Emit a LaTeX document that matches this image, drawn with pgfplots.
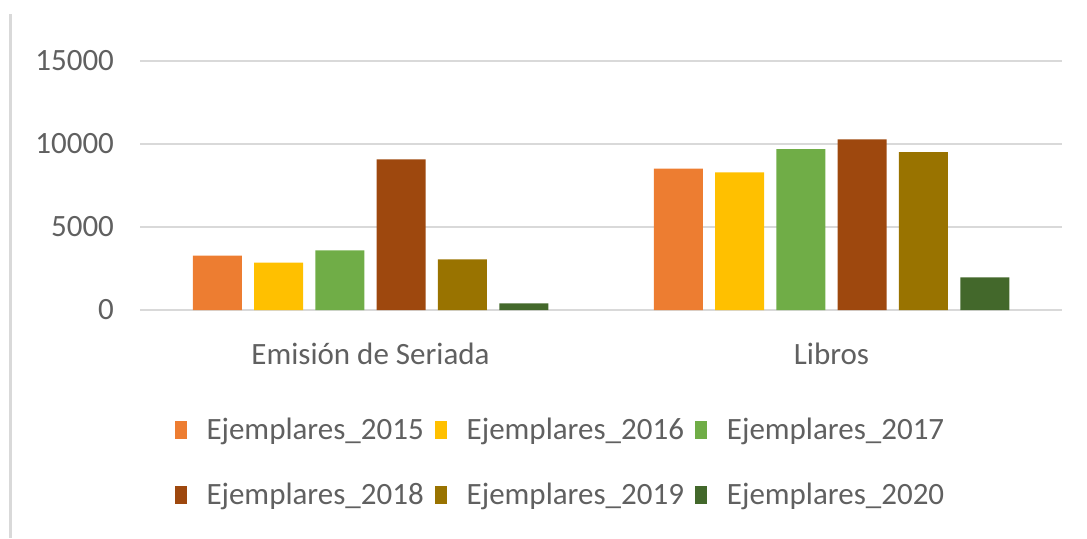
\documentclass[border=0pt]{standalone}
\usepackage{pgfplots}
\pgfplotsset{compat=1.18}
\usepackage{fontspec}
\setmainfont{Carlito}
\definecolor{c15}{HTML}{ED7D31}
\definecolor{c16}{HTML}{FFC000}
\definecolor{c17}{HTML}{70AD47}
\definecolor{c18}{HTML}{9E480E}
\definecolor{c19}{HTML}{997300}
\definecolor{c20}{HTML}{43682B}
\definecolor{txt}{HTML}{606060}
\definecolor{grd}{HTML}{D9D9D9}
\begin{document}
\begin{tikzpicture}
\useasboundingbox (0,0) rectangle (543.5pt,269pt);
\draw[color=grd, line width=1.5pt] (5pt,262pt) -- (5pt,0pt);
\begin{axis}[
  at={(70pt,114pt)}, anchor=south west,
  scale only axis, width=461pt, height=124.5pt,
  ybar=6.15pt, bar width=24.5pt,
  xmin=-0.5, xmax=1.5, ymin=0, ymax=15000,
  xtick={0,1}, xticklabels={Emisión de Seriada, Libros},
  ytick={0,5000,10000,15000},
  ymajorgrids, grid style={grd, line width=1pt},
  axis line style={draw=none},
  major tick length=0pt,
  /pgf/number format/assume math mode=true,
  scaled y ticks=false,
  yticklabel={\pgfmathprintnumber[fixed,1000 sep={}]{\tick}},
  tick label style={font=\fontsize{15.5}{18}\selectfont, text=txt},
  xticklabel style={yshift=-13pt},
  yticklabel style={xshift=-9.5pt},
  legend columns=3,
  legend style={draw=none, fill=none, at={(axis description cs:0.457,-0.40)}, anchor=north,
    font=\fontsize{15.5}{18}\selectfont, text=txt,
    /tikz/every even column/.append style={column sep=3.5pt},
    /tikz/every odd column/.append style={column sep=8pt},
    row sep=16pt},
  legend image code/.code={\fill[#1] (0pt,-4.5pt) rectangle (6pt,4.5pt);},
]
\addplot[fill=c15, draw=none] coordinates {(0,3271) (1,8512)};
\addplot[fill=c16, draw=none] coordinates {(0,2850) (1,8295)};
\addplot[fill=c17, draw=none] coordinates {(0,3596) (1,9699)};
\addplot[fill=c18, draw=none] coordinates {(0,9078) (1,10283)};
\addplot[fill=c19, draw=none] coordinates {(0,3054) (1,9518)};
\addplot[fill=c20, draw=none] coordinates {(0,403) (1,1970)};
\legend{Ejemplares\_2015, Ejemplares\_2016, Ejemplares\_2017, Ejemplares\_2018, Ejemplares\_2019, Ejemplares\_2020}
\end{axis}
\end{tikzpicture}
\end{document}
